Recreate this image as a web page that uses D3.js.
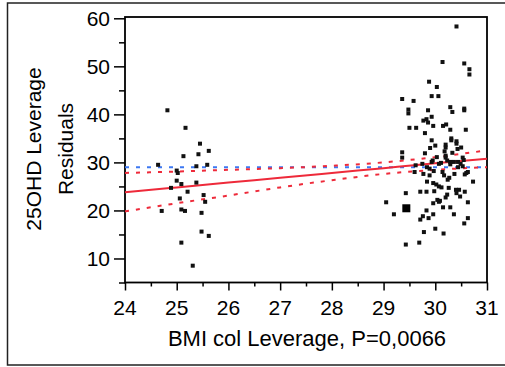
<!DOCTYPE html>
<html>
<head>
<meta charset="utf-8">
<script src="https://cdn.jsdelivr.net/npm/d3@7"></script>
<style>
  body { margin: 0; background: #fff; }
  svg text { font-family: Arial, "Liberation Sans", sans-serif; fill: #000; }
</style>
</head>
<body>
<div id="chart"></div>
<script>
// --- data ---
const bmi = [
  24.64, 24.82, 24.71, 24.89, 25.00, 25.02, 25.00, 25.09, 25.06, 25.09, 25.16, 25.09, 25.13, 25.17,
  25.21, 25.31, 25.38, 25.38, 25.42, 25.45, 25.59, 25.62, 25.52, 25.55, 25.48, 25.48, 25.62,
  30.41, 30.14, 30.56, 30.66, 30.66, 29.88, 30.03, 29.93, 30.06, 29.36, 29.58, 29.48, 29.48, 30.29,
  30.33, 30.56, 30.56, 29.86, 29.93, 29.83, 29.77, 29.86, 29.96, 30.15, 30.21, 29.50, 29.63, 30.29,
  30.59, 29.80, 29.93, 30.31, 30.31, 30.41, 30.41, 30.00, 30.20, 30.20, 30.50, 30.43, 29.36, 29.36,
  29.80, 30.20, 30.03, 30.20, 30.53, 29.95, 30.23, 30.29, 30.36, 30.44, 30.49, 29.93, 29.75, 29.62,
  30.07, 30.29, 30.53, 29.84, 29.89, 29.97, 29.60, 30.14, 30.63, 29.77, 30.57, 30.37, 30.17, 29.89,
  30.73, 29.84, 29.96, 30.02, 30.24, 30.07, 30.26, 30.12, 30.40, 30.46, 30.57, 29.43, 29.71, 29.83,
  30.23, 30.20, 30.41, 30.48, 30.04, 30.07, 29.96, 30.63, 29.05, 30.15, 30.29, 29.83, 29.20, 29.96,
  30.36, 29.76, 29.87, 29.71, 30.63, 30.56, 30.00, 29.78, 30.16, 29.69, 29.43, 30.55, 30.33, 30.60,
  30.11, 29.90, 30.09, 30.27, 29.98, 30.44, 30.18
];
const resid = [
  29.5, 40.85, 19.9, 24.7, 28.3, 27.8, 26.2, 25.5, 22.5, 20.2, 19.9, 13.3, 31.3, 37.2,
  23.9, 8.5, 25.8, 29.2, 31.7, 33.9, 29.5, 32.4, 23.2, 21.8, 19.5, 15.6, 14.7,
  58.3, 50.9, 50.6, 49.4, 48.3, 46.8, 45.7, 43.8, 43.8, 43.2, 42.8, 41.0, 40.2, 41.5,
  40.5, 41.2, 40.85, 40.85, 39.5, 39.0, 38.7, 38.3, 37.6, 37.6, 37.9, 37.2, 37.2, 36.8,
  36.8, 36.1, 34.6, 35.0, 34.6, 34.4, 33.9, 33.5, 33.7, 33.1, 33.1, 32.8, 32.1, 31.0,
  31.9, 31.4, 31.1, 31.0, 31.0, 30.4, 30.4, 30.1, 30.1, 30.1, 29.7, 30.1, 29.7, 29.4,
  29.7, 29.6, 29.2, 29.0, 28.7, 28.2, 28.0, 28.0, 28.0, 27.6, 27.5, 27.6, 27.3, 27.3,
  26.0, 26.0, 25.7, 25.4, 26.4, 25.0, 24.7, 24.8, 24.3, 24.3, 23.9, 23.6, 23.9, 23.9,
  23.3, 22.7, 23.6, 22.9, 22.2, 21.8, 21.5, 21.7, 21.7, 20.65, 20.65, 20.0, 19.2, 19.2,
  19.2, 18.8, 18.4, 18.1, 18.4, 17.3, 16.2, 15.5, 15.2, 13.3, 12.9, 30.5, 32.0, 27.8,
  29.9, 33.0, 22.0, 26.8, 24.0, 29.0, 32.3
];
// highlighted (large) point
const bigBmi = [29.44];
const bigResid = [20.45];

// fit line and confidence curves, read at each integer BMI
const curveX = [24, 25, 26, 27, 28, 29, 30, 31];
const fitY   = [23.8, 24.8, 25.8, 26.8, 27.8, 28.8, 29.8, 30.75];
const upperY = [27.8, 28.1, 28.45, 28.8, 29.3, 30.0, 31.1, 32.5];
const lowerY = [19.8, 21.5, 23.1, 24.8, 26.3, 27.6, 28.45, 29.0];
const meanY = [29.0, 29.0, 29.0, 29.0, 29.0, 29.0, 29.0, 29.0];

const xTicks = [24, 25, 26, 27, 28, 29, 30, 31];
const yTicks = [10, 20, 30, 40, 50, 60];
const xTitle = "BMI col Leverage, P=0,0066";
const yTitle = ["25OHD Leverage", "Residuals"];

// --- layout ---
const W = 505, H = 367;
const plotL = 125, plotR = 487, plotT = 17, plotB = 282.5;
const redC = "#ee2a3a", blueC = "#3d78f2";

const svg = d3.select("#chart").append("svg").attr("width", W).attr("height", H);

svg.append("rect").attr("x", 7.5).attr("y", 3).attr("width", 520).attr("height", 362)
   .attr("fill", "none").attr("stroke", "#222").attr("stroke-width", 1.5);

const x = d3.scaleLinear().domain([24, 31]).range([plotL, plotR]);
const y = d3.scaleLinear().domain([5, 60.27]).range([plotB, plotT]);

// plot frame
svg.append("rect").attr("x", plotL).attr("y", plotT).attr("width", plotR - plotL).attr("height", plotB - plotT)
   .attr("fill", "none").attr("stroke", "#000").attr("stroke-width", 1.8);

// axes
const xAxis = d3.axisBottom(x).tickValues(d3.range(24, 31.01, 0.5)).tickSize(0).tickFormat("");
const gx = svg.append("g").attr("transform", `translate(0,${plotB})`).call(xAxis);
gx.select(".domain").remove();
gx.selectAll(".tick line").attr("y1", 0).attr("y2", d => Number.isInteger(d) ? 8 : 4)
  .attr("stroke", "#000").attr("stroke-width", 1.5);
svg.append("g").selectAll("text").data(xTicks).join("text")
   .attr("x", d => x(d)).attr("y", plotB + 32.5).attr("text-anchor", "middle")
   .style("font-size", "21px").text(d => d);

const yAxis = d3.axisLeft(y).tickValues(d3.range(5, 60.01, 5)).tickSize(0).tickFormat("");
const gy = svg.append("g").attr("transform", `translate(${plotL},0)`).call(yAxis);
gy.select(".domain").remove();
gy.selectAll(".tick line").attr("x1", 0).attr("x2", d => d % 10 === 0 ? -11 : -6)
  .attr("stroke", "#000").attr("stroke-width", 1.5);
svg.append("g").selectAll("text").data(yTicks).join("text")
   .attr("x", 110).attr("y", d => y(d)).attr("dy", "0.36em").attr("text-anchor", "end")
   .style("font-size", "21px").text(d => d);

// titles
svg.append("text").attr("x", 307).attr("y", 346).attr("text-anchor", "middle")
   .style("font-size", "22px").text(xTitle);
yTitle.forEach((t, i) => {
  svg.append("text").attr("transform", `translate(${41 + i * 32},149) rotate(-90)`)
     .attr("text-anchor", "middle").style("font-size", "21px").text(t);
});

// lines
const line = d3.line().x(d => x(d[0])).y(d => y(d[1])).curve(d3.curveMonotoneX);
svg.append("path").datum(d3.zip(curveX, meanY))
   .attr("d", line).attr("fill", "none").attr("stroke", blueC).attr("stroke-width", 2)
   .attr("stroke-dasharray", "4,7");
[upperY, lowerY].forEach(arr => {
  svg.append("path").datum(d3.zip(curveX, arr)).attr("d", line)
     .attr("fill", "none").attr("stroke", redC).attr("stroke-width", 2).attr("stroke-dasharray", "4,7");
});
svg.append("path").datum(d3.zip(curveX, fitY)).attr("d", line)
   .attr("fill", "none").attr("stroke", redC).attr("stroke-width", 2);

// points
const pts = d3.zip(bmi, resid);
svg.append("g").selectAll("rect").data(pts).join("rect")
   .attr("x", d => x(d[0]) - 2).attr("y", d => y(d[1]) - 2)
   .attr("width", 4).attr("height", 4).attr("fill", "#111");
svg.append("g").selectAll("rect").data(d3.zip(bigBmi, bigResid)).join("rect")
   .attr("x", d => x(d[0]) - 4).attr("y", d => y(d[1]) - 4)
   .attr("width", 8).attr("height", 8).attr("fill", "#000");
</script>
</body>
</html>
